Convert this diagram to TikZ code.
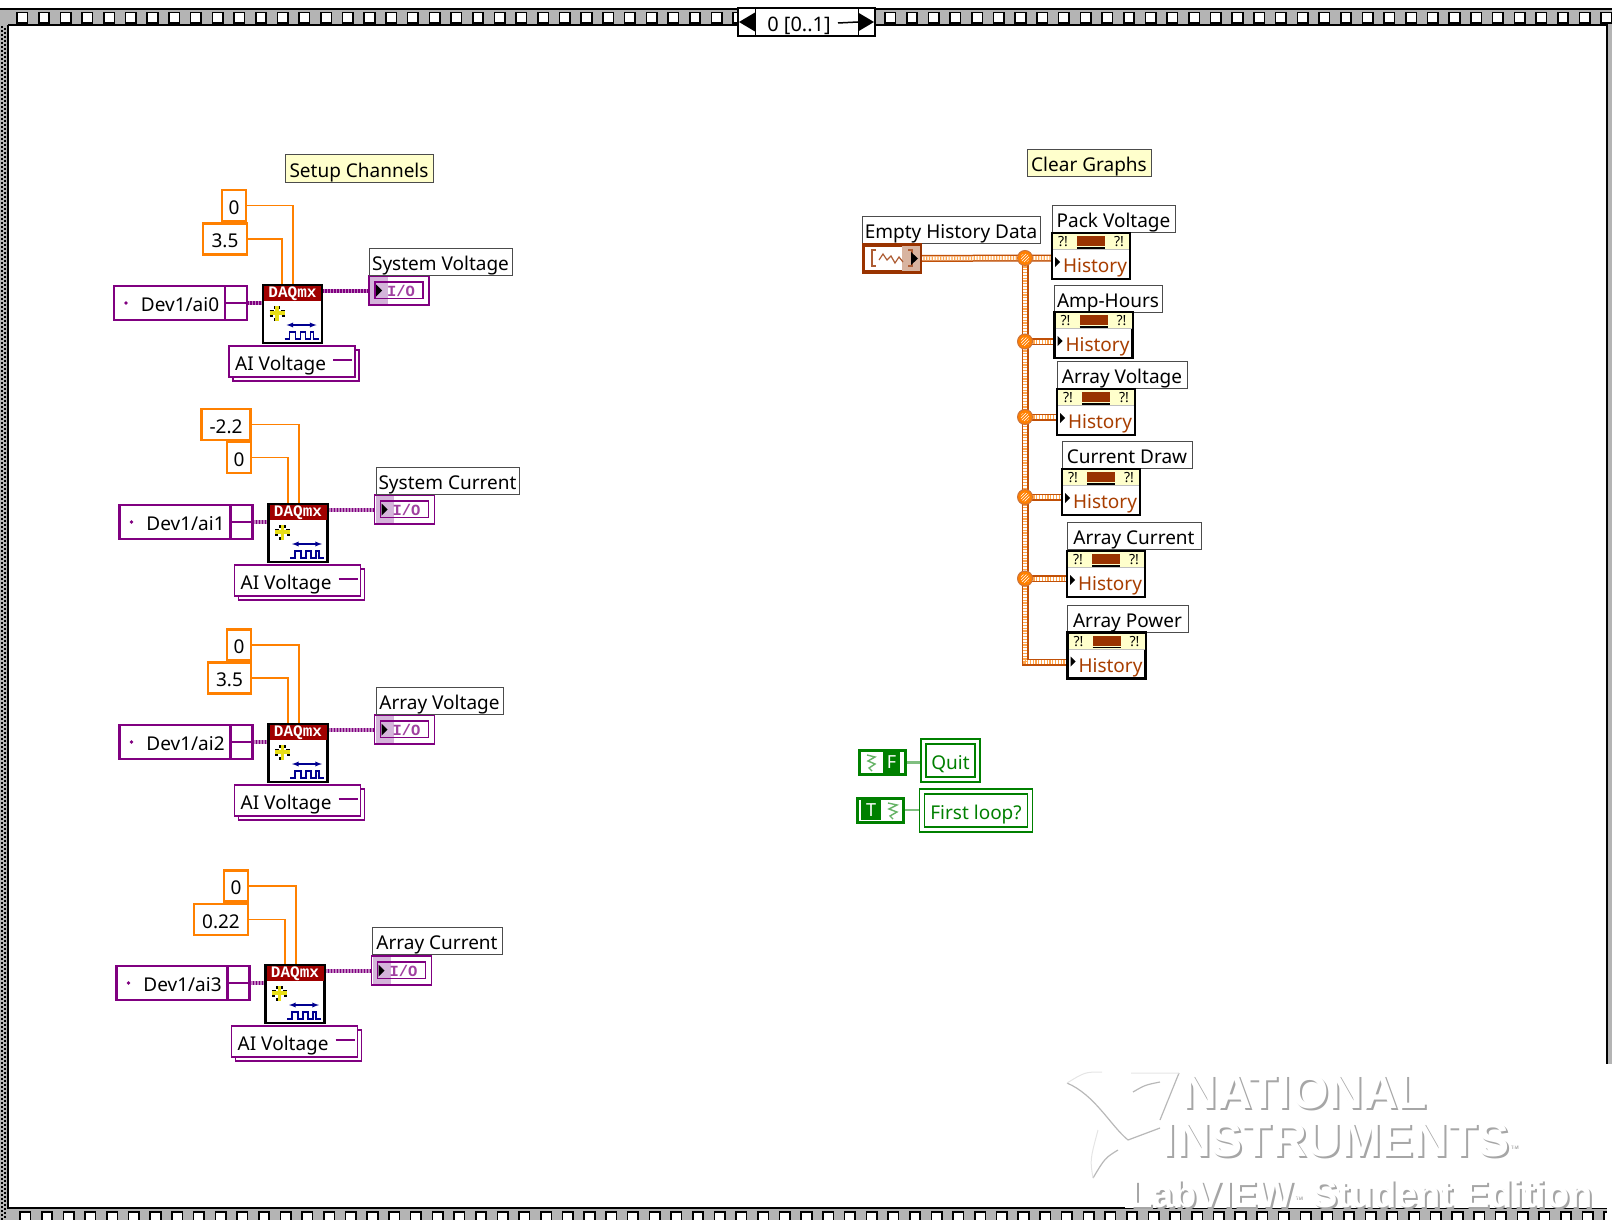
\documentclass[tikz,border=0pt]{standalone}
\usepackage{fontspec}
\setmainfont{Noto Sans}
\newfontfamily\wmfont{Liberation Sans}
\newfontfamily\pixfont{Liberation Mono}
\usetikzlibrary{shadows,patterns,backgrounds}

\definecolor{numorange}{HTML}{FF8000}
\definecolor{daqpurple}{HTML}{800080}
\definecolor{wirepurple}{HTML}{A040A0}
\definecolor{shadepurple}{HTML}{D4B4DA}
\definecolor{daqred}{HTML}{A00000}
\definecolor{rust}{HTML}{993300}
\definecolor{wirerust}{HTML}{C05008}
\definecolor{shaderust}{HTML}{D8B4A0}
\definecolor{notepaper}{HTML}{FFFFCC}
\definecolor{boolgreen}{HTML}{008000}
\definecolor{daqblue}{HTML}{000090}
\definecolor{framegray}{HTML}{B4B4B4}

\tikzset{
  txt/.style={font=\fontsize{19}{20}\selectfont, text=black, inner sep=0pt, text height=17pt, text depth=0pt},
  caption/.style={txt, draw=black!70, line width=1pt, fill=white, minimum height=27, outer sep=0pt},
  note/.style={caption, fill=notepaper},
  numconst/.style={txt, draw=numorange, line width=2.2pt, fill=white, minimum height=31, outer sep=0pt},
  numwire/.style={draw=numorange, line width=1.6pt},
  devbox/.style={draw=daqpurple, line width=2.4pt, fill=white, minimum width=133, minimum height=34, outer sep=0pt},
  aibox/.style={draw=daqpurple, line width=1.6pt, fill=white, minimum width=126, minimum height=31, outer sep=0pt,
    copy shadow={shadow xshift=4pt, shadow yshift=-4pt, draw=daqpurple, fill=white}},
  daqvi/.style={draw=black, line width=2.4pt, fill=white, minimum width=59, minimum height=58, outer sep=0pt},
  iobox/.style={draw=daqpurple, line width=1.6pt, fill=white, minimum width=60, minimum height=29, outer sep=0pt},
  taskwire/.style={draw=wirepurple!65, line width=4pt,
    postaction={draw=daqpurple, line width=4pt, dash pattern=on 1.5pt off 1.5pt}},
  histnode/.style={draw=black, line width=2.4pt, fill=white, minimum width=78, minimum height=46, outer sep=0pt},
  bundlewire/.style={draw=wirerust, line width=7pt,
    postaction={draw=white, line width=4pt},
    postaction={draw=numorange!70, line width=4pt, dash pattern=on 1.2pt off 1.6pt}},
  junction/.style={circle, draw=wirerust!80, line width=1pt, fill=numorange, minimum size=15, inner sep=0pt,
    path picture={\fill[pattern=north east lines, pattern color=white] (path picture bounding box.center) circle (4.5);}},
  boolconst/.style={draw=boolgreen, line width=3pt, fill=white, minimum width=46, minimum height=24, outer sep=0pt},
  boolind/.style={txt, text=boolgreen, draw=boolgreen, line width=1.5pt, double=white, double distance=3.5pt, fill=white, minimum height=38, outer sep=0pt},
  boolwire/.style={draw=boolgreen!50, line width=2.5pt},
  wmtext/.style={inner sep=0pt, anchor=center},
  daqicon/.pic={
    \path[fill=daqred] (-28.5,-28) rectangle (28.5,-13);
    \node[font=\pixfont\bfseries\fontsize{16}{16}\selectfont, text=white, inner sep=0pt] (-title) at (0,-20.5) {DAQmx};
    \draw[yellow!90!black, line width=3.4pt] (-23,-1) -- (-8,-1) (-15.5,-8) -- (-15.5,7);
    \draw[black, line width=1.5pt] (-23,-3.5) -- (-19,-3.5) (-12,-3.5) -- (-8,-3.5) (-23,2) -- (-20,2) (-11,2) -- (-8,2) (-18,-8) -- (-18,-5) (-13,-8) -- (-13,-5) (-18,4) -- (-18,7);
    \draw[daqblue, line width=1.3pt, <->, >=latex] (-6,11) -- (24,11);
    \draw[daqblue, line width=1.5pt] (-8,25) -- (-3,25) -- (-3,18) -- (3,18) -- (3,25) -- (8,25) -- (8,18) -- (13,18) -- (13,25) -- (18,25) -- (18,18) -- (21,18) -- (21,25) -- (26,25);
  },
  ioicon/.pic={
    \path[fill=shadepurple] (-29,-13.5) rectangle (-11,13.5);
    \draw[daqpurple, line width=1.2pt] (-24,-8.5) rectangle (24,8);
    \path[fill=black] (-23,-6) -- (-17,0) -- (-23,6) -- cycle;
    \node[font=\pixfont\bfseries\fontsize{15.5}{15.5}\selectfont, text=wirepurple, inner sep=0pt] (-txt) at (2,0) {I/O};
  },
  histicon/.pic={
    \path[fill=notepaper] (1,1) rectangle (77,16);
    \draw[black!25, line width=.6pt] (1,16.5) -- (77,16.5);
    \path[fill=rust] (25,3) rectangle (53,13);
    \draw[black, line width=1.2pt] (25,15) -- (53,15);
    \node[font=\bfseries\fontsize{14}{14}\selectfont, inner sep=0pt] (-warnl) at (11,9) {?!};
    \node[font=\bfseries\fontsize{14}{14}\selectfont, inner sep=0pt] (-warnr) at (67,9) {?!};
    \path[fill=black] (3,24) -- (8,29) -- (3,34) -- cycle;
    \node[txt, text=rust!85!orange] (-txt) at (43,31) {History};
  },
}

\begin{document}
\begin{tikzpicture}[x=1pt,y=-1pt]
\path[use as bounding box, clip] (0,0) rectangle (1612,1220);

% frame of the sequence
\path[fill=framegray] (0,9) rectangle (1612,25);
\path[fill=framegray] (0,1208) rectangle (1612,1220);
\path[fill=framegray] (0,9) rectangle (8,1220);
\path[fill=framegray] (1607,9) rectangle (1612,1064);
\draw[black, line width=1.5pt] (0,9) -- (1612,9);
\draw[black, line width=2pt] (8,25) -- (1607,25) -- (1607,1064);
\draw[black, line width=2pt] (8,25) -- (8,1208) -- (1607,1208);
\draw[black, line width=2pt, dash pattern=on 2pt off 2pt] (1.5,26) -- (1.5,1220);
\draw[black, line width=2pt, dash pattern=on 2pt off 2pt, dash phase=2pt] (4.5,26) -- (4.5,1220);
\foreach \i in {0,...,73} {
  \draw[black, line width=1.6pt, fill=white] (17+21.7*\i,12.5) rectangle +(10.5,10.5);
  \draw[black, line width=1.6pt, fill=white] (20+21.7*\i,1212) rectangle +(10.5,10.5);
}
\node[draw=black, line width=1.5pt, fill=white, minimum width=137, minimum height=28, outer sep=0pt] (selbox) at (806.5,22) {};
\node[txt, font=\fontsize{20}{20}\selectfont] (seltxt) at (799,23) {0 [0..1]};
\draw[black, line width=1pt] (755,8) -- (755,36) (858,8) -- (858,36);
\path[fill=black] (739,22) -- (755,12.5) -- (755,31.5) -- cycle;
\path[fill=black] (874,22) -- (858,12.5) -- (858,31.5) -- cycle;
\draw[black, line width=1.5pt] (seltxt.east -| 838,22) -- (858,22);

% setup channels
\node[note, minimum width=148] (setupnote) at (359,168.5) {Setup Channels};

% first channel
\node[numconst, minimum width=24] (topa) at (234,205.5) {0};
\node[numconst, minimum width=44] (lowa) at (225,239) {3.5};
\node[devbox] (deva) at (180.5,303) {};
\node[txt] (devatxt) at (180,303) {Dev1/ai0};
\fill[daqpurple] (126,303) circle (1.8);
\draw[daqpurple, line width=2.4pt] (225,286) -- (225,320) (225,303) -- (247,303);
\node[daqvi] (daqa) at (292.5,314) {};
\pic (daqaicon) at (daqa) {daqicon};
\node[aibox] (aia) at (292,361.5) {};
\node[txt, anchor=west] (aiatxt) at (235,362) {AI Voltage};
\draw[daqpurple, line width=2.2pt] (333,360) -- (352,360);
\node[iobox] (ioa) at (399,290.5) {};
\pic (ioaicon) at (ioa) {ioicon};
\node[caption, minimum width=143] (capa) at (440.5,261.5) {System Voltage};

% second channel
\node[numconst, minimum width=49] (topb) at (226,424.5) {-2.2};
\node[numconst, minimum width=24] (lowb) at (239,457.5) {0};
\node[devbox] (devb) at (186,522) {};
\node[txt] (devbtxt) at (185.5,522) {Dev1/ai1};
\fill[daqpurple] (131.5,522) circle (1.8);
\draw[daqpurple, line width=2.4pt] (230.5,505) -- (230.5,539) (230.5,522) -- (252.5,522);
\node[daqvi] (daqb) at (298,533) {};
\pic (daqbicon) at (daqb) {daqicon};
\node[aibox] (aib) at (297.5,580.5) {};
\node[txt, anchor=west] (aibtxt) at (240.5,581) {AI Voltage};
\draw[daqpurple, line width=2.2pt] (338.5,579) -- (357.5,579);
\node[iobox] (iob) at (404.5,509.5) {};
\pic (iobicon) at (iob) {ioicon};
\node[caption, minimum width=143] (capb) at (447.5,480.5) {System Current};

% third channel
\node[numconst, minimum width=24] (topc) at (239,645) {0};
\node[numconst, minimum width=43] (lowc) at (229.5,678) {3.5};
\node[devbox] (devc) at (186,742) {};
\node[txt] (devctxt) at (185.5,742) {Dev1/ai2};
\fill[daqpurple] (131.5,742) circle (1.8);
\draw[daqpurple, line width=2.4pt] (230.5,725) -- (230.5,759) (230.5,742) -- (252.5,742);
\node[daqvi] (daqc) at (298,753) {};
\pic (daqcicon) at (daqc) {daqicon};
\node[aibox] (aic) at (297.5,800.5) {};
\node[txt, anchor=west] (aictxt) at (240.5,801) {AI Voltage};
\draw[daqpurple, line width=2.2pt] (338.5,799) -- (357.5,799);
\node[iobox] (ioc) at (404.5,729.5) {};
\pic (iocicon) at (ioc) {ioicon};
\node[caption, minimum width=127] (capc) at (439.5,700.5) {Array Voltage};

% fourth channel
\node[numconst, minimum width=24] (topd) at (236,886) {0};
\node[numconst, minimum width=54] (lowd) at (221,919.5) {0.22};
\node[devbox] (devd) at (183,983) {};
\node[txt] (devdtxt) at (182.5,983) {Dev1/ai3};
\fill[daqpurple] (128.5,983) circle (1.8);
\draw[daqpurple, line width=2.4pt] (227.5,966) -- (227.5,1000) (227.5,983) -- (249.5,983);
\node[daqvi] (daqd) at (295,994) {};
\pic (daqdicon) at (daqd) {daqicon};
\node[aibox] (aid) at (294.5,1041.5) {};
\node[txt, anchor=west] (aidtxt) at (237.5,1042) {AI Voltage};
\draw[daqpurple, line width=2.2pt] (335.5,1040) -- (354.5,1040);
\node[iobox] (iod) at (401.5,970.5) {};
\pic (iodicon) at (iod) {ioicon};
\node[caption, minimum width=130] (capd) at (437,941) {Array Current};

% clear graphs
\node[note, minimum width=124] (clearnote) at (1089,163) {Clear Graphs};
\node[caption, minimum width=178] (emptycap) at (951,229.5) {Empty History Data};
\node[draw=rust, line width=3.5pt, fill=white, minimum width=57, minimum height=27, outer sep=0pt] (emptydata) at (892,258.5) {};
\path[fill=shaderust] (902,246) rectangle (920,271);
\draw[rust!80, line width=1.4pt] (876,250) -- (872,250) -- (872,266) -- (876,266) (908,250) -- (912,250) -- (912,266) -- (908,266);
\draw[rust!80, line width=1.2pt] (879,260) -- (883,254) -- (887,260) -- (891,256) -- (895,263) -- (899,257) -- (903,262);
\path[fill=black] (911,252) -- (918,258.5) -- (911,265) -- cycle;

\node[caption, minimum width=123] (capva) at (1113.5,218.5) {Pack Voltage};
\node[histnode] (hista) at (1091,256) {};
\pic (histaicon) at (hista.north west) {histicon};
\node[caption, minimum width=108] (capvb) at (1108,298.5) {Amp-Hours};
\node[histnode] (histb) at (1093.5,335) {};
\pic (histbicon) at (histb.north west) {histicon};
\node[caption, minimum width=130] (capvc) at (1122,375) {Array Voltage};
\node[histnode] (histc) at (1096,412) {};
\pic (histcicon) at (histc.north west) {histicon};
\node[caption, minimum width=130] (capvd) at (1127,455) {Current Draw};
\node[histnode] (histd) at (1101,492) {};
\pic (histdicon) at (histd.north west) {histicon};
\node[caption, minimum width=134] (capve) at (1134,536) {Array Current};
\node[histnode] (histe) at (1106,574) {};
\pic (histeicon) at (histe.north west) {histicon};
\node[caption, minimum width=121] (capvf) at (1127.5,618.5) {Array Power};
\node[histnode] (histf) at (1106.5,655.5) {};
\pic (histficon) at (histf.north west) {histicon};

\node[junction] (ja) at (1025,258) {};
\node[junction] (jb) at (1025,341.5) {};
\node[junction] (jc) at (1025,417) {};
\node[junction] (jd) at (1025,497) {};
\node[junction] (je) at (1025,578.5) {};

% constants to the output variables
\node[boolconst] (falseconst) at (882.5,762.5) {};
\path[fill=boolgreen] (883,752) rectangle (900,773);
\node[font=\bfseries\fontsize{18}{18}\selectfont, text=white, inner sep=0pt] (falsetxt) at (891.5,762.5) {F};
\draw[boolgreen!60, line width=1.4pt] (867,755) -- (875,757) -- (868,761) -- (875,764) -- (869,768) -- (872,771);
\node[boolind, minimum width=54] (quitind) at (950.5,760.5) {Quit};
\node[boolconst] (trueconst) at (880.5,810) {};
\path[fill=boolgreen] (861,800) rectangle (881,820);
\node[font=\bfseries\fontsize{18}{18}\selectfont, text=white, inner sep=0pt] (truetxt) at (871,810) {T};
\draw[boolgreen!60, line width=1.4pt] (888,803) -- (897,805) -- (889,809) -- (897,812) -- (890,816) -- (893,819);
\node[boolind, minimum width=108] (firstind) at (976,810.5) {First loop?};

% wires
\begin{scope}[on background layer]
\foreach \ch/\shift in {a/0.5,b/1,c/1,d/1} {
  \draw[numwire] (top\ch.east) -| ([xshift=\shift]daq\ch.north);
  \draw[numwire] (low\ch.east) -| ([xshift=\shift-11]daq\ch.north);
  \draw[taskwire] (dev\ch.east) -- (daq\ch.west |- dev\ch.east);
  \draw[taskwire] (daq\ch.east |- io\ch.west) -- (io\ch.west);
}
\draw[bundlewire] (emptydata.east) -- (ja.center) -- (hista.west |- ja.center);
\draw[bundlewire] (ja.center) -- (je.center) |- ([yshift=-6.5pt]histf.west);
\draw[bundlewire] (jb.center) -- (histb.west |- jb.center);
\draw[bundlewire] (jc.center) -- (histc.west |- jc.center);
\draw[bundlewire] (jd.center) -- (histd.west |- jd.center);
\draw[bundlewire] (je.center) -- (histe.west |- je.center);
\draw[boolwire] (falseconst.east) -- (quitind.west |- falseconst.east);
\draw[boolwire] (trueconst.east) -- (firstind.west |- trueconst.east);
\end{scope}

% watermark
\draw[black!28, line width=1.2pt, line join=round] (1067,1083) .. controls (1095,1095) and (1110,1125) .. (1128,1140) -- (1160,1128);
\draw[black!28, line width=1.2pt] (1133,1092) .. controls (1145,1085) .. (1160,1082);
\draw[black!28, line width=1.2pt] (1160,1120) -- (1179,1073);
\draw[black!28, line width=1.2pt] (1118,1150) .. controls (1105,1158) .. (1093,1178);
\draw[black!10, line width=1pt] (1067,1083) .. controls (1085,1072) .. (1102,1072) (1131,1073) -- (1179,1073) (1093,1178) .. controls (1090,1160) .. (1098,1130);
\path[fill=white] (1607,1064) rectangle (1612,1220);
\path[fill=white] (1125,1205) rectangle (1612,1208);
\foreach \wmx/\wmy/\wmcol/\wmsuf in {2/2/black!35/s,0/0/white/t} {
  \node[wmtext, font=\wmfont\bfseries\fontsize{48}{48}\selectfont, text=\wmcol] (wmna\wmsuf) at (1305+\wmx,1092+\wmy) {NATIONAL};
  \node[wmtext, font=\wmfont\bfseries\fontsize{48}{48}\selectfont, text=\wmcol] (wmin\wmsuf) at (1340+\wmx,1140+\wmy) {INSTRUMENTS\textsuperscript{\tiny TM}};
  \node[wmtext, font=\wmfont\bfseries\fontsize{38}{38}\selectfont, text=\wmcol] (wmlv\wmsuf) at (1361+\wmx,1194+\wmy) {LabVIEW\textsuperscript{\tiny TM} Student Edition};
}
\end{tikzpicture}
\end{document}
